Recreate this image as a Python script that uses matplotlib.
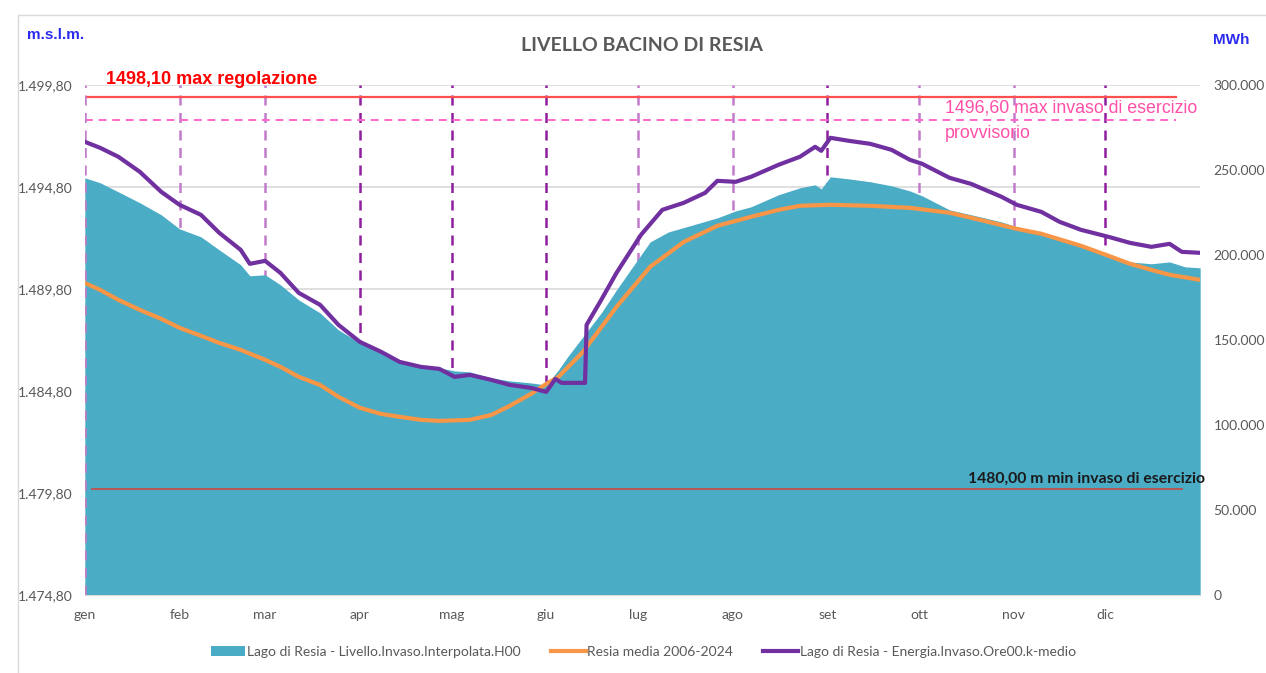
import matplotlib
matplotlib.use("Agg")
import matplotlib.pyplot as plt
from matplotlib.lines import Line2D
from matplotlib.patches import Patch, Rectangle
from matplotlib.ticker import FuncFormatter

plt.rcParams["font.family"] = ["Lato", "DejaVu Sans"]

# x positions are day of year (0 = 1 January)
MONTHS = ["gen", "feb", "mar", "apr", "mag", "giu", "lug", "ago", "set", "ott", "nov", "dic"]
MONTH_START = [0, 31, 59, 90, 120, 151, 181, 212, 243, 273, 304, 334]

# Lago di Resia - Livello.Invaso.Interpolata.H00 (m s.l.m.)
LEVEL_DAYS = [0, 5, 11, 18, 25, 31, 38, 44, 51, 54, 59, 64, 70, 77, 83, 90, 97, 103, 110,
              116, 121, 126, 133, 139, 146, 151, 155, 158, 163, 169, 174, 185, 191, 198,
              207, 213, 218, 227, 234, 239, 241, 244, 250, 257, 264, 270, 274, 283, 293,
              300, 305, 313, 319, 326, 335, 342, 349, 355, 360, 365]
LEVEL = [1495.24, 1495.00, 1494.55, 1494.02, 1493.43, 1492.74, 1492.35, 1491.71, 1490.98,
         1490.44, 1490.49, 1490.00, 1489.26, 1488.62, 1487.79, 1487.15, 1486.71, 1486.22,
         1485.98, 1485.93, 1485.78, 1485.73, 1485.44, 1485.29, 1485.19, 1485.09, 1485.83,
         1486.47, 1487.45, 1488.62, 1489.75, 1492.10, 1492.59, 1492.89, 1493.28, 1493.62,
         1493.82, 1494.41, 1494.75, 1494.90, 1494.70, 1495.29, 1495.19, 1495.05, 1494.85,
         1494.60, 1494.36, 1493.67, 1493.33, 1493.08, 1492.84, 1492.55, 1492.25, 1491.91,
         1491.42, 1491.12, 1491.03, 1491.12, 1490.88, 1490.83]

# Resia media 2006-2024 (m s.l.m.)
MEAN_DAYS = [0, 5, 11, 18, 25, 31, 38, 44, 51, 59, 64, 70, 77, 83, 90, 97, 103, 110, 116,
             126, 133, 139, 146, 151, 155, 163, 174, 185, 196, 207, 218, 227, 234, 244,
             257, 270, 283, 293, 305, 313, 326, 335, 342, 349, 355, 365]
MEAN = [1490.09, 1489.75, 1489.26, 1488.77, 1488.33, 1487.89, 1487.50, 1487.15, 1486.81,
        1486.32, 1485.98, 1485.49, 1485.09, 1484.51, 1483.97, 1483.67, 1483.53, 1483.38,
        1483.33, 1483.38, 1483.62, 1484.06, 1484.65, 1485.14, 1485.49, 1486.71, 1488.92,
        1490.88, 1492.10, 1492.89, 1493.33, 1493.67, 1493.87, 1493.92, 1493.87, 1493.77,
        1493.53, 1493.18, 1492.74, 1492.50, 1491.91, 1491.42, 1491.03, 1490.73, 1490.49,
        1490.24]

# Lago di Resia - Energia.Invaso.Ore00.k-medio (MWh)
ENERGY_DAYS = [0, 5, 11, 18, 25, 31, 38, 44, 51, 54, 59, 64, 70, 77, 83, 90, 97, 103, 110,
               116, 121, 126, 133, 139, 146, 151, 154, 156, 163.7, 164.2, 169, 174, 182,
               189, 196, 203, 207, 213, 218, 227, 234, 239, 241, 244, 250, 257, 264, 270,
               274, 283, 290, 300, 305, 313, 319, 326, 335, 342, 349, 355, 359, 365]
ENERGY = [266470, 262940, 257650, 248820, 237060, 229410, 223530, 212940, 202940, 194710,
          196470, 189410, 177650, 170590, 158820, 148820, 142940, 137060, 134120, 132940,
          128240, 129410, 126470, 123530, 121760, 119410, 127060, 124710, 124710, 158820,
          173530, 189410, 211760, 226470, 230590, 236470, 243530, 242940, 245880, 252940,
          257650, 263530, 261180, 268820, 267060, 265290, 261760, 255880, 253530, 245290,
          241760, 234120, 229410, 225290, 219410, 214710, 210590, 207060, 204710, 206470,
          201760, 201180]

LEVEL_TICKS = [1474.8, 1479.8, 1484.8, 1489.8, 1494.8, 1499.8]
ENERGY_TICKS = [0, 50000, 100000, 150000, 200000, 250000, 300000]

MAX_REG = 1499.2       # red line as drawn in the chart
MAX_ESERCIZIO = 1498.08
MIN_ESERCIZIO = 1480.0

DARK_MONTHS = {"apr", "mag", "giu", "set", "dic"}

TEAL = "#4BACC6"
ORANGE = "#F79646"
PURPLE = "#7030A0"
GREY_TXT = "#595959"
ARIAL = ["Liberation Sans", "DejaVu Sans"]


def it_number(v, decimals):
    s = f"{v:,.{decimals}f}"
    return s.replace(",", "X").replace(".", ",").replace("X", ".")


fig = plt.figure(figsize=(12.66, 6.73), dpi=100)
ax = fig.add_axes([0.067, 0.116, 0.881, 0.758])
ax2 = ax.twinx()

ax.set_xlim(0, 365)
ax.set_ylim(1474.8, 1499.8)
ax2.set_ylim(0, 300000)

for v in LEVEL_TICKS:
    ax.axhline(v, color="#D9D9D9", lw=1.2, zorder=0)

for name, d in zip(MONTHS, MONTH_START):
    col = "#8E1E9E" if name in DARK_MONTHS else "#C27BCB"
    ax.axvline(d, color=col, lw=1.8, ls=(0, (4, 3)), zorder=4 if d == 0 else 1)

ax.fill_between(LEVEL_DAYS, 1474.8, LEVEL, color=TEAL, lw=0, zorder=2)
ax.plot(MEAN_DAYS, MEAN, color=ORANGE, lw=3, zorder=3, solid_capstyle="round")

ax.plot([0, 357], [MAX_REG, MAX_REG], color="#FF5050", lw=1.6, zorder=3)
ax.plot([0, 357], [MAX_ESERCIZIO, MAX_ESERCIZIO], color="#FF66CC", lw=1.4,
        ls=(0, (4, 3)), zorder=3)
ax.plot([2.3, 359], [MIN_ESERCIZIO, MIN_ESERCIZIO], color="#C0504D", lw=1.3, zorder=3)

ax.text(7, 1500.05, "1498,10 max regolazione", color="#FF0000", fontsize=13,
        fontweight="bold", family=ARIAL, va="center")
ax.text(281.5, 1498.05, "1496,60 max invaso di esercizio\nprovvisorio", color="#FF4FA8",
        fontsize=12.8, family=ARIAL, va="center", linespacing=1.65)
ax.text(289, 1480.48, "1480,00 m min invaso di esercizio", color="#1A1A1A",
        fontsize=11.3, fontweight="bold", va="center")

ax2.plot(ENERGY_DAYS, ENERGY, color=PURPLE, lw=3, zorder=5, solid_joinstyle="round")

ax.set_xticks(MONTH_START)
ax.set_xticklabels(MONTHS)
ax.set_yticks(LEVEL_TICKS)
ax.yaxis.set_major_formatter(FuncFormatter(lambda v, p: it_number(v, 2)))
ax2.set_yticks(ENERGY_TICKS)
ax2.yaxis.set_major_formatter(FuncFormatter(lambda v, p: it_number(v, 0)))

ax.tick_params(axis="x", length=0, pad=10, labelsize=10, labelcolor=GREY_TXT)
ax.tick_params(axis="y", length=0, pad=9, labelsize=10, labelcolor=GREY_TXT)
ax2.tick_params(axis="y", length=0, pad=9.5, labelsize=10, labelcolor=GREY_TXT)

for a in (ax, ax2):
    for side in ("top", "left", "right"):
        a.spines[side].set_visible(False)
    a.spines["bottom"].set_color("#D9D9D9")
ax2.spines["bottom"].set_visible(False)

fig.text(0.507, 0.932, "LIVELLO BACINO DI RESIA", ha="center", va="center",
         fontsize=14, fontweight="bold", color=GREY_TXT)
fig.text(0.021, 0.948, "m.s.l.m.", ha="left", va="center", fontsize=11,
         fontweight="bold", color="#2B2BF0", family=ARIAL)
fig.text(0.958, 0.940, "MWh", ha="left", va="center", fontsize=11,
         fontweight="bold", color="#2B2BF0", family=ARIAL)

handles = [
    Patch(facecolor=TEAL, edgecolor="none"),
    Line2D([], [], color=ORANGE, lw=3),
    Line2D([], [], color=PURPLE, lw=3),
]
labels = [
    "Lago di Resia - Livello.Invaso.Interpolata.H00",
    "Resia media 2006-2024",
    "Lago di Resia - Energia.Invaso.Ore00.k-medio",
]
fig.legend(handles, labels, loc="center", bbox_to_anchor=(0.508, 0.031), ncol=3,
           frameon=False, fontsize=10, labelcolor=GREY_TXT, handlelength=2.5,
           handletextpad=0.1, columnspacing=2.2)

fig.patches.append(Rectangle((0.014, -0.01), 1.0, 0.988, transform=fig.transFigure,
                             fill=False, edgecolor="#D9D9D9", lw=1))

fig.savefig("out.png", dpi=100)
